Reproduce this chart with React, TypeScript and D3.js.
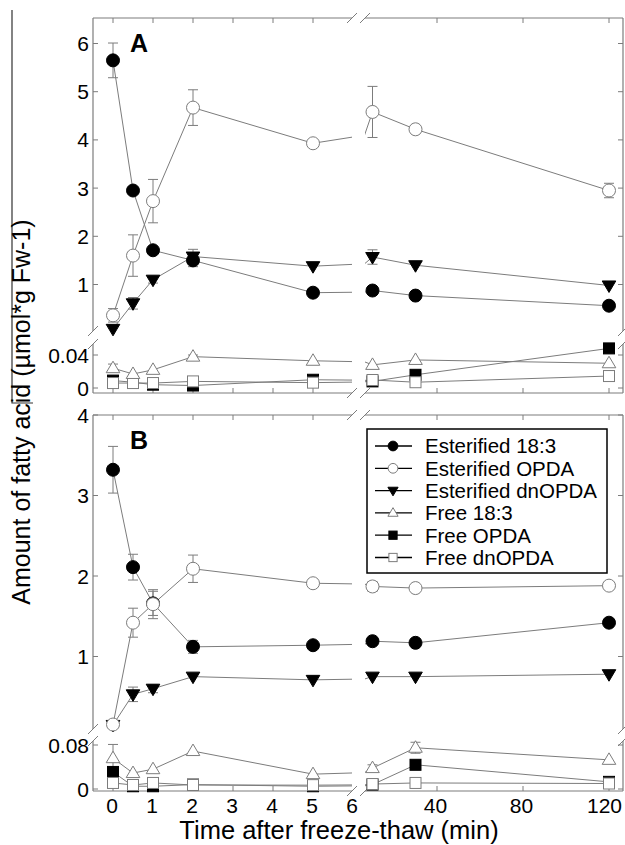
import React from 'react';
import * as d3 from 'd3';

// sampling times (min)
const times = [0, 0.5, 1, 2, 5, 10, 30, 120];
const seriesNames = ['Esterified 18:3', 'Esterified OPDA', 'Esterified dnOPDA', 'Free 18:3', 'Free OPDA', 'Free dnOPDA'];
const markerKinds = ['fcircle', 'ocircle', 'fdown', 'oup', 'fsquare', 'osquare'];

// panel A
const aEst183 = [5.65, 2.95, 1.71, 1.5, 0.83, 0.875, 0.77, 0.56];
const aEst183Err = [0.36, 0, 0, 0.13, 0, 0, 0, 0];
const aEstOpda = [0.36, 1.6, 2.73, 4.67, 3.93, 4.58, 4.22, 2.95];
const aEstOpdaErr = [0.14, 0.43, 0.45, 0.37, 0, 0.53, 0, 0.15];
const aEstDn = [0.08, 0.61, 1.1, 1.58, 1.38, 1.57, 1.4, 0.98];
const aEstDnErr = [0, 0.12, 0.07, 0.15, 0, 0.15, 0, 0];
const aFree183 = [0.024, 0.017, 0.022, 0.038, 0.033, 0.028, 0.034, 0.03];
const aFree183Err = [0.005, 0, 0, 0.002, 0, 0, 0, 0];
const aFreeOpda = [0.009, 0.007, 0.004, 0.003, 0.01, 0.008, 0.016, 0.048];
const aFreeOpdaErr = [0, 0, 0, 0, 0, 0, 0, 0];
const aFreeDn = [0.006, 0.006, 0.006, 0.008, 0.0065, 0.0097, 0.007, 0.0145];
const aFreeDnErr = [0, 0, 0, 0, 0, 0, 0, 0];

// panel B
const bEst183 = [3.32, 2.11, 1.66, 1.12, 1.14, 1.19, 1.17, 1.42];
const bEst183Err = [0.29, 0.16, 0.15, 0.08, 0, 0, 0, 0];
const bEstOpda = [0.155, 1.42, 1.65, 2.09, 1.91, 1.87, 1.85, 1.88];
const bEstOpdaErr = [0, 0.18, 0.18, 0.17, 0.05, 0.06, 0, 0.05];
const bEstDn = [0.15, 0.53, 0.6, 0.75, 0.71, 0.75, 0.75, 0.78];
const bEstDnErr = [0, 0.09, 0.05, 0, 0, 0, 0, 0];
const bFree183 = [0.056, 0.029, 0.036, 0.069, 0.027, 0.038, 0.075, 0.053];
const bFree183Err = [0.025, 0, 0, 0, 0, 0.006, 0.01, 0];
const bFreeOpda = [0.031, 0.005, 0.005, 0.008, 0.005, 0.008, 0.044, 0.013];
const bFreeOpdaErr = [0.009, 0, 0, 0, 0, 0, 0.008, 0];
const bFreeDn = [0.011, 0.0073, 0.011, 0.0073, 0.007, 0.009, 0.011, 0.01];
const bFreeDnErr = [0, 0, 0, 0, 0, 0, 0, 0];

// tick labels
const aUpTicks = [1, 2, 3, 4, 5, 6];
const aLowTicks = [0, 0.04];
const bUpTicks = [1, 2, 3, 4];
const bLowTicks = [0, 0.08];
const xLeftTicks = [0, 1, 2, 3, 4, 5];
const xLeftLabels = [0, 1, 2, 3, 4, 5, 6];
const xRightTicks = [40, 80, 120];

const GRAY = '#7c7c7c';
const FONT = 'Liberation Sans, Arial, Helvetica, sans-serif';

// x segments
const L = 93, R = 623, XB1 = 352, XB2 = 365;
const xLeft = d3.scaleLinear().domain([0, 5]).range([113, 313]);
const xRight = d3.scaleLinear().domain([40, 120]).range([437, 609]);

function Marker({ kind, x, y, s = 1 }: { kind: string; x: number; y: number; s?: number }) {
  const filled = kind[0] === 'f';
  const fill = filled ? '#000' : '#fff';
  const stroke = filled ? '#000' : GRAY;
  const shape = kind.slice(1);
  if (shape === 'circle') return <circle cx={x} cy={y} r={6.5 * s} fill={fill} stroke={stroke} strokeWidth={1} />;
  if (shape === 'square') {
    const h = 5.5 * s;
    return <rect x={x - h} y={y - h} width={2 * h} height={2 * h} fill={fill} stroke={stroke} strokeWidth={1} />;
  }
  const w = 6.8 * s, t = 7 * s, b = 4.5 * s;
  const pts = shape === 'down'
    ? `${x - w},${y - b} ${x + w},${y - b} ${x},${y + t}`
    : `${x - w},${y + b} ${x + w},${y + b} ${x},${y - t}`;
  return <polygon points={pts} fill={fill} stroke={stroke} strokeWidth={1} />;
}

function slash(cx: number, cy: number, key: string) {
  return <line key={key} x1={cx - 5} y1={cy + 5} x2={cx + 5} y2={cy - 5} stroke={GRAY} strokeWidth={1} />;
}

type Seg = { scale: d3.ScaleLinear<number, number>; top: number; bottom: number; ticks: number[] };

function Panel({ id, letter, up, low, data, showX }: {
  id: string; letter: string; up: Seg; low: Seg;
  data: { values: number[]; err: number[] }[]; showX: boolean;
}) {
  const top = up.top, bottom = low.bottom;
  const xsegs = [
    { scale: xLeft, x0: L, x1: XB1, inSeg: (t: number) => t <= 6 },
    { scale: xRight, x0: XB2, x1: R, inSeg: (t: number) => t > 6 },
  ];
  const ysegs = [up, low];
  const line = d3.line();
  const fmt = (v: number) => (v === 0 ? '0' : String(v));
  return (
    <g>
      <defs>
        {xsegs.map((xs, i) => ysegs.map((ys, j) => (
          <clipPath key={`${i}${j}`} id={`${id}-c${i}${j}`}>
            <rect x={xs.x0} y={ys.top} width={xs.x1 - xs.x0} height={ys.bottom - ys.top} />
          </clipPath>
        )))}
      </defs>
      {/* frame */}
      <g stroke={GRAY} strokeWidth={1.2} fill="none">
        {ysegs.map((ys, j) => (
          <g key={j}>
            <line x1={L} y1={ys.top} x2={L} y2={ys.bottom} />
            <line x1={R} y1={ys.top} x2={R} y2={ys.bottom} />
          </g>
        ))}
        {xsegs.map((xs, i) => (
          <g key={i}>
            <line x1={xs.x0} y1={top} x2={xs.x1} y2={top} />
            <line x1={xs.x0} y1={bottom} x2={xs.x1} y2={bottom} />
          </g>
        ))}
      </g>
      {/* break marks */}
      {[L, R].map((x) => [slash(x, up.bottom, `u${x}`), slash(x, low.top, `l${x}`)])}
      {[top, bottom].map((y) => [slash(XB1, y, `a${y}`), slash(XB2, y, `b${y}`)])}
      {/* ticks */}
      <g stroke={GRAY} strokeWidth={1}>
        {ysegs.map((ys, j) => ys.ticks.map((v) => (
          <g key={`${j}-${v}`}>
            <line x1={L} x2={L + 5} y1={ys.scale(v)} y2={ys.scale(v)} />
            <line x1={R} x2={R - 5} y1={ys.scale(v)} y2={ys.scale(v)} />
          </g>
        )))}
        {[...xLeftTicks.map((t) => xLeft(t)), ...xRightTicks.map((t) => xRight(t))].map((x) => (
          <g key={x}>
            <line x1={x} x2={x} y1={top} y2={top + 5} />
            <line x1={x} x2={x} y1={bottom} y2={bottom - 5} />
          </g>
        ))}
      </g>
      <g fontFamily={FONT} fontSize={21} fill="#000" textAnchor="end">
        {ysegs.map((ys, j) => ys.ticks.map((v) => (
          <text key={`${j}-${v}`} x={89} y={ys.scale(v) + 7.5}>{fmt(v)}</text>
        )))}
      </g>
      {showX && (
        <g fontFamily={FONT} fontSize={21} fill="#000" textAnchor="middle">
          {xLeftLabels.map((t) => <text key={`l${t}`} x={xLeft(t) - 1} y={bottom + 22}>{t}</text>)}
          {xRightTicks.map((t) => (
            <text key={`r${t}`} x={t === 120 ? 622 : xRight(t) - 1.5} y={bottom + 22} textAnchor={t === 120 ? 'end' : 'middle'}>{t}</text>
          ))}
        </g>
      )}
      <text x={130} y={top + 34} fontFamily={FONT} fontSize={25} fontWeight="bold">{letter}</text>
      {/* series lines */}
      {xsegs.map((xs, i) => ysegs.map((ys, j) => (
        <g key={`ln${i}${j}`} clipPath={`url(#${id}-c${i}${j})`} stroke={GRAY} strokeWidth={1} fill="none">
          {data.map((d, k) => ((k < 3) === (j === 0) ? (
            <path key={k} d={line(times.map((t, n) => [xs.scale(t), ys.scale(d.values[n])]))!} />
          ) : null))}
        </g>
      )))}
      {/* error bars */}
      <g stroke={GRAY} strokeWidth={1}>
        {data.map((d, k) => times.map((t, n) => {
          const e = d.err[n];
          if (!e) return null;
          const xs = xsegs.find((s) => s.inSeg(t))!;
          const ys = k < 3 ? up : low;
          const x = xs.scale(t), y0 = ys.scale(d.values[n] - e), y1 = ys.scale(d.values[n] + e);
          return (
            <g key={`${k}-${n}`}>
              <line x1={x} x2={x} y1={y0} y2={y1} />
              <line x1={x - 5} x2={x + 5} y1={y0} y2={y0} />
              <line x1={x - 5} x2={x + 5} y1={y1} y2={y1} />
            </g>
          );
        }))}
      </g>
      {/* markers */}
      {[2, 0, 1, 4, 5, 3].map((k) => times.map((t, n) => {
        const xs = xsegs.find((s) => s.inSeg(t))!;
        const ys = k < 3 ? up : low;
        return <Marker key={`${k}-${n}`} kind={markerKinds[k]} x={xs.scale(t)} y={ys.scale(data[k].values[n])} />;
      }))}
    </g>
  );
}

function Legend() {
  const x0 = 367, y0 = 429, w = 240, h = 144;
  return (
    <g>
      <rect x={x0} y={y0} width={w} height={h} fill="#fff" stroke="#000" strokeWidth={1.5} />
      {seriesNames.map((name, i) => {
        const y = 446 + i * 22.3;
        return (
          <g key={name}>
            <line x1={375} x2={412} y1={y} y2={y} stroke="#000" strokeWidth={1.3} />
            <Marker kind={markerKinds[i]} x={393} y={y} s={0.75} />
            <text x={425} y={y + 7.3} fontFamily={FONT} fontSize={20.5}>{name}</text>
          </g>
        );
      })}
    </g>
  );
}

export default function App() {
  const aUp: Seg = { scale: d3.scaleLinear().domain([1, 6]).range([284.5, 43.5]), top: 18, bottom: 331, ticks: aUpTicks };
  const aLow: Seg = { scale: d3.scaleLinear().domain([0, 0.04]).range([388, 355]), top: 344, bottom: 393, ticks: aLowTicks };
  const bUp: Seg = { scale: d3.scaleLinear().domain([1, 4]).range([656.5, 415]), top: 415, bottom: 729, ticks: bUpTicks };
  const bLow: Seg = { scale: d3.scaleLinear().domain([0, 0.08]).range([789, 745]), top: 741, bottom: 791, ticks: bLowTicks };

  const aData = [
    { values: aEst183, err: aEst183Err }, { values: aEstOpda, err: aEstOpdaErr }, { values: aEstDn, err: aEstDnErr },
    { values: aFree183, err: aFree183Err }, { values: aFreeOpda, err: aFreeOpdaErr }, { values: aFreeDn, err: aFreeDnErr },
  ];
  const bData = [
    { values: bEst183, err: bEst183Err }, { values: bEstOpda, err: bEstOpdaErr }, { values: bEstDn, err: bEstDnErr },
    { values: bFree183, err: bFree183Err }, { values: bFreeOpda, err: bFreeOpdaErr }, { values: bFreeDn, err: bFreeDnErr },
  ];

  return (
    <svg width={625} height={845} style={{ position: 'absolute', left: 0, top: 0, background: '#fff' }}>
      <rect width={625} height={845} fill="#fff" />
      <Panel id="pa" letter="A" up={aUp} low={aLow} data={aData} showX={false} />
      <Panel id="pb" letter="B" up={bUp} low={bLow} data={bData} showX={true} />
      <Legend />
      <path d="M12,10 V403 H33" fill="none" stroke="#333" strokeWidth={1.2} />
      <text transform="translate(30,412) rotate(-90)" textAnchor="middle" fontFamily={FONT} fontSize={25}>
        Amount of fatty acid (µmol*g Fw-1)
      </text>
      <text x={339} y={839} textAnchor="middle" fontFamily={FONT} fontSize={25.5}>
        Time after freeze-thaw (min)
      </text>
    </svg>
  );
}
